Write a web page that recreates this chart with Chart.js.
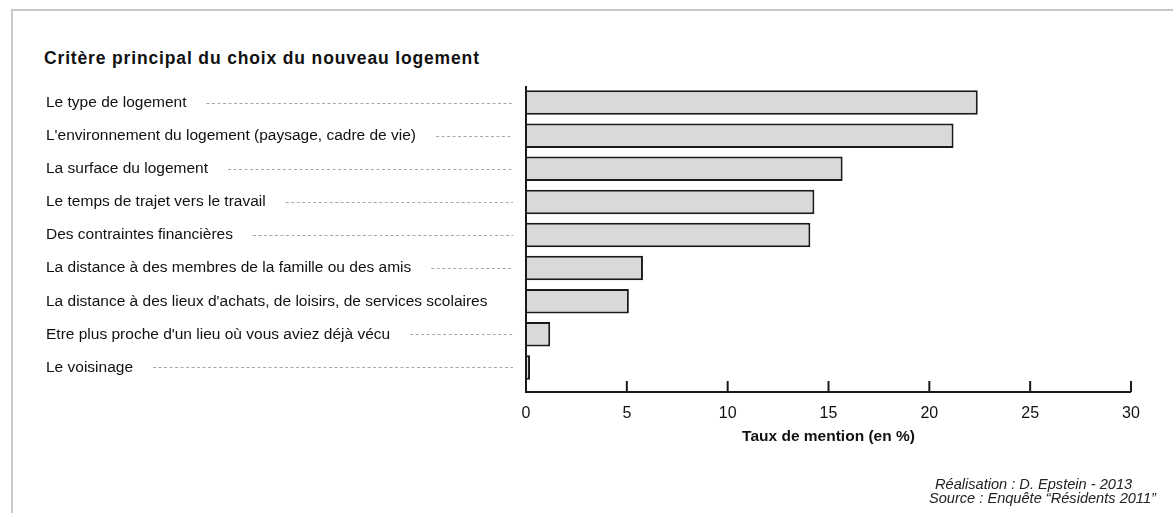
<!DOCTYPE html>
<html lang="fr">
<head>
<meta charset="utf-8">
<script src="https://cdn.jsdelivr.net/npm/chart.js@4.4.1/dist/chart.umd.min.js"></script>
<style>
  body { margin: 0; background: #fff; font-family: "Liberation Sans", Arial, sans-serif; overflow: hidden; }
  #cadre { position: absolute; left: 11px; top: 9px; width: 1300px; height: 600px; border-top: 2px solid #c8c8c8; border-left: 2px solid #c8c8c8; }
  #titre { position: absolute; left: 44px; top: 48px; font-weight: bold; font-size: 17.5px; letter-spacing: 0.85px; line-height: 20px; color: #111; }
  #notes { position: absolute; left: 929px; top: 478px; font-style: italic; font-size: 14.6px; line-height: 13.5px; white-space: nowrap; color: #222; }
  #notes span { display: block; }
  #graphique { position: absolute; left: 0; top: 0; }
</style>
</head>
<body>
<div id="cadre"></div>
<div id="titre">Critère principal du choix du nouveau logement</div>
<canvas id="graphique" width="1173" height="513"></canvas>
<div id="notes"><span style="padding-left:6px">Réalisation : D. Epstein - 2013</span><span>Source : Enquête “Résidents 2011”</span></div>
<script>
const criteres = [
  "Le type de logement",
  "L'environnement du logement (paysage, cadre de vie)",
  "La surface du logement",
  "Le temps de trajet vers le travail",
  "Des contraintes financières",
  "La distance à des membres de la famille ou des amis",
  "La distance à des lieux d'achats, de loisirs, de services scolaires",
  "Etre plus proche d'un lieu où vous aviez déjà vécu",
  "Le voisinage"
];
const taux = [22.4, 21.2, 15.7, 14.3, 14.1, 5.8, 5.1, 1.2, 0.2];
const graduations = [0, 5, 10, 15, 20, 25, 30];

const famille = '"Liberation Sans", Arial, sans-serif';
const tailleLabels = 15.5;

// axes, petites graduations vers l'intérieur et pointillés de rappel
const axesEtPointilles = {
  id: 'axesEtPointilles',
  beforeDatasetsDraw(chart) {
    const { ctx, scales: { x, y } } = chart;
    ctx.save();
    ctx.font = tailleLabels + 'px ' + famille;
    ctx.strokeStyle = '#a8a8a8';
    ctx.lineWidth = 1;
    ctx.setLineDash([3, 2.5]);
    const fin = x.getPixelForValue(0) - 13;
    criteres.forEach((c, i) => {
      const debut = y.left + ctx.measureText(c).width + 20;
      if (debut < fin - 10) {
        const yy = Math.round(y.getPixelForValue(i)) + 0.5;
        ctx.beginPath();
        ctx.moveTo(debut, yy);
        ctx.lineTo(fin, yy);
        ctx.stroke();
      }
    });
    ctx.restore();
  },
  afterDraw(chart) {
    const { ctx, chartArea, scales: { x } } = chart;
    const bas = chartArea.bottom + 8;
    const x0 = x.getPixelForValue(0);
    ctx.save();
    ctx.strokeStyle = '#1a1a1a';
    ctx.lineWidth = 2;
    ctx.beginPath();
    ctx.moveTo(x0, chartArea.top);
    ctx.lineTo(x0, bas);
    ctx.lineTo(x.getPixelForValue(graduations[graduations.length - 1]), bas);
    graduations.forEach(v => {
      const px = x.getPixelForValue(v);
      ctx.moveTo(px, bas);
      ctx.lineTo(px, bas - 11);
    });
    ctx.stroke();
    ctx.restore();
  }
};

new Chart(document.getElementById('graphique'), {
  type: 'bar',
  data: {
    labels: criteres,
    datasets: [{
      data: taux,
      backgroundColor: '#d9d9d9',
      borderColor: '#1a1a1a',
      borderWidth: 2,
      barPercentage: 0.74,
      categoryPercentage: 1
    }]
  },
  options: {
    indexAxis: 'y',
    responsive: false,
    animation: false,
    devicePixelRatio: 1,
    layout: { padding: { left: 46, right: 42, top: 86, bottom: 0 } },
    plugins: { legend: { display: false }, tooltip: { enabled: false } },
    scales: {
      y: {
        type: 'category',
        afterFit(s) { s.width = 480; },
        grid: { display: false, drawTicks: false },
        border: { display: false },
        ticks: { crossAlign: 'far', color: '#111', font: { family: famille, size: tailleLabels } }
      },
      x: {
        min: 0,
        max: 30,
        afterFit(s) { s.height = 129; },
        grid: { display: false, drawTicks: false },
        border: { display: false },
        ticks: { stepSize: 5, padding: 20, color: '#111', font: { family: famille, size: 16 } },
        title: {
          display: true,
          text: 'Taux de mention (en %)',
          color: '#111',
          font: { family: famille, size: 15.5, weight: 'bold' },
          padding: { top: 0, bottom: 67 }
        }
      }
    }
  },
  plugins: [axesEtPointilles]
});
</script>
</body>
</html>
